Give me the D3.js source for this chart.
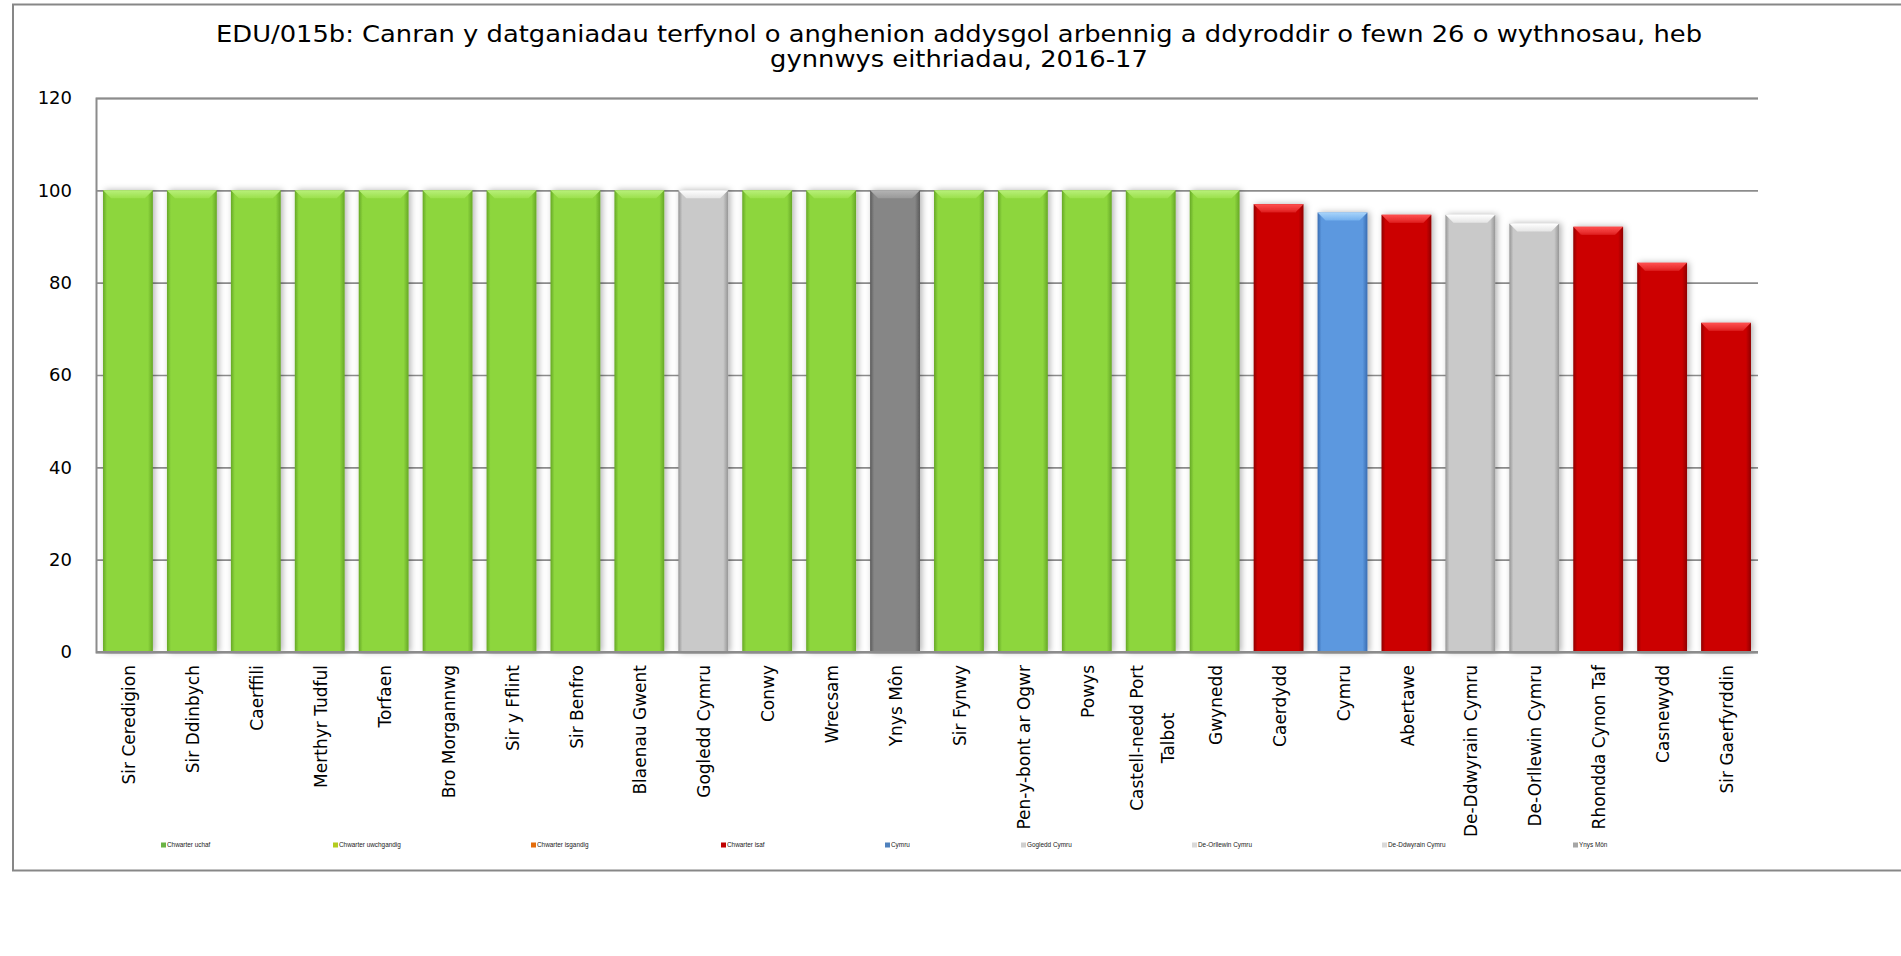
<!DOCTYPE html>
<html><head><meta charset="utf-8">
<script src="https://cdn.jsdelivr.net/npm/d3@7"></script>
<style>body{margin:0;background:#fff;} svg{display:block;}</style>
</head><body>
<svg id="c" width="1901" height="956"></svg>
<script>
const titleLines = ["EDU/015b: Canran y datganiadau terfynol o anghenion addysgol arbennig a ddyroddir o fewn 26 o wythnosau, heb", "gynnwys eithriadau, 2016-17"];
const categories = ["Sir Ceredigion","Sir Ddinbych","Caerffili","Merthyr Tudful","Torfaen","Bro Morgannwg","Sir y Fflint","Sir Benfro","Blaenau Gwent","Gogledd Cymru","Conwy","Wrecsam","Ynys Môn","Sir Fynwy","Pen-y-bont ar Ogwr","Powys","Castell-nedd Port Talbot","Gwynedd","Caerdydd","Cymru","Abertawe","De-Ddwyrain Cymru","De-Orllewin Cymru","Rhondda Cynon Taf","Casnewydd","Sir Gaerfyrddin"];
const values = [100,100,100,100,100,100,100,100,100,100,100,100,100,100,100,100,100,100,97.0,95.2,94.7,94.7,92.8,92.1,84.3,71.3];
const groups = ["uchaf","uchaf","uchaf","uchaf","uchaf","uchaf","uchaf","uchaf","uchaf","region","uchaf","uchaf","ynys","uchaf","uchaf","uchaf","uchaf","uchaf","isaf","cymru","isaf","region","region","isaf","isaf","isaf"];
const yTicks = [0,20,40,60,80,100,120];
const legendLabels = ["Chwarter uchaf","Chwarter uwchgandig","Chwarter isgandig","Chwarter isaf","Cymru","Gogledd Cymru","De-Orllewin Cymru","De-Ddwyrain Cymru","Ynys Môn"];

// styles
const barStyle = {
  uchaf: {base:"#8DD63D", edge:"#66A826", top:"#B8F07A", top2:"#9BE04C"},
  isaf:  {base:"#CC0505", edge:"#900000", top:"#FF5050", top2:"#E02020"},
  cymru: {base:"#5B98DF", edge:"#3A6DB2", top:"#A8D4FA", top2:"#74B0EE"},
  region:{base:"#C9C9C9", edge:"#959595", top:"#FFFFFF", top2:"#E4E4E4"},
  ynys:  {base:"#868686", edge:"#5A5A5A", top:"#B4B4B4", top2:"#999999"}
};
const legendColors = ["#6AB344","#B4CC1E","#E46C0A","#C00000","#4F81BD","#CFCFCF","#D9D9D9","#D9D9D9","#A6A6A6"];
const legendX = [161,333,531,721,885,1021,1192,1382,1573];

const svg = d3.select("#c");
const font = "'DejaVu Sans', Verdana, sans-serif";
const L = 96, R = 1758, T = 98, B = 652;

// frame
svg.append("rect").attr("x",13).attr("y",4.5).attr("width",1950).attr("height",866)
  .attr("fill","#fff").attr("stroke","#878787").attr("stroke-width",2);

const defs = svg.append("defs");
Object.entries(barStyle).forEach(([k,s])=>{
  const g = defs.append("linearGradient").attr("id","g_"+k).attr("x1","0").attr("x2","1").attr("y1","0").attr("y2","0");
  g.append("stop").attr("offset","0").attr("stop-color",s.edge);
  g.append("stop").attr("offset","0.08").attr("stop-color",s.base);
  g.append("stop").attr("offset","0.9").attr("stop-color",s.base);
  g.append("stop").attr("offset","1").attr("stop-color",s.edge);
  const t = defs.append("linearGradient").attr("id","t_"+k).attr("x1","0").attr("x2","0").attr("y1","0").attr("y2","1");
  t.append("stop").attr("offset","0").attr("stop-color",s.top);
  t.append("stop").attr("offset","1").attr("stop-color",s.top2);
});
const f = defs.append("filter").attr("id","sh").attr("x","-30%").attr("y","-10%").attr("width","160%").attr("height","120%");
f.append("feDropShadow").attr("dx",2).attr("dy",0).attr("stdDeviation",3).attr("flood-color","#000").attr("flood-opacity",0.3);

const x = d3.scaleBand().domain(categories).range([L,R]).paddingInner(0.22).paddingOuter(0.11);
const y = d3.scaleLinear().domain([0,120]).range([B,T]);

// title
const titleG = svg.append("g");
const tl = titleG.selectAll("text").data(titleLines).join("text")
  .attr("x",959).attr("y",(d,i)=>42+i*24.5).attr("text-anchor","middle")
  .attr("font-family",font).attr("font-size",22.5).attr("fill","#000").text(d=>d);
const w0 = tl.nodes()[0].getComputedTextLength();
const k = 1486 / w0;
tl.each(function(){ const w=this.getComputedTextLength(); d3.select(this).attr("textLength",w*k).attr("lengthAdjust","spacingAndGlyphs"); });

// grid + y axis
const yAxis = d3.axisLeft(y).tickValues(yTicks).tickSize(-(R-L)).tickPadding(24);
const ga = svg.append("g").attr("transform",`translate(${L},0)`).call(yAxis);
ga.select(".domain").attr("stroke","#8C8C8C").attr("stroke-width",2);
ga.selectAll(".tick line").attr("stroke","#8C8C8C").attr("stroke-width",1.6);
ga.selectAll(".tick text").attr("font-family",font).attr("font-size",18).attr("fill","#000");

// bars
const bars = svg.append("g").selectAll("g").data(categories).join("g").attr("filter","url(#sh)");
bars.append("rect")
  .attr("x",d=>x(d)).attr("width",x.bandwidth())
  .attr("y",(d,i)=>y(values[i])).attr("height",(d,i)=>y(0)-y(values[i]))
  .attr("fill",(d,i)=>`url(#g_${groups[i]})`);
const bev = 8;
bars.append("path")
  .attr("d",(d,i)=>{const x0=x(d), x1=x0+x.bandwidth(), y0=y(values[i]);
    return `M${x0},${y0}L${x1},${y0}L${x1-bev},${y0+bev}L${x0+bev},${y0+bev}Z`;})
  .attr("fill",(d,i)=>`url(#t_${groups[i]})`);

// bottom axis line
svg.append("line").attr("x1",L).attr("x2",R).attr("y1",B).attr("y2",B).attr("stroke","#8C8C8C").attr("stroke-width",2);

// x labels
const labTop = 665;
categories.forEach((c)=>{
  const lines = c.length > 20 ? [c.slice(0,c.lastIndexOf(" ")), c.slice(c.lastIndexOf(" ")+1)] : [c];
  const cx = x(c) + x.bandwidth()/2;
  const g = svg.append("g").attr("transform",`translate(${cx},${labTop}) rotate(-90)`);
  const gap = 31;
  const texts = g.selectAll("text").data(lines).join("text")
    .attr("font-family",font).attr("font-size",17).attr("fill","#000")
    .attr("dy","0.36em")
    .attr("y",(d,i)=> (i-(lines.length-1)/2)*gap + (lines.length>1?2:1))
    .text(d=>d);
  if(lines.length===1){ texts.attr("x",0).attr("text-anchor","end"); }
  else {
    const mx = d3.max(texts.nodes(), n=>n.getComputedTextLength());
    texts.attr("x",-mx/2).attr("text-anchor","middle");
  }
});

// legend
const lg = svg.append("g").selectAll("g").data(legendLabels).join("g")
  .attr("transform",(d,i)=>`translate(${legendX[i]},845)`);
lg.append("rect").attr("x",0).attr("y",-2.5).attr("width",5).attr("height",5).attr("fill",(d,i)=>legendColors[i]);
lg.append("text").attr("x",6).attr("y",2.2).attr("font-family","'Liberation Sans', Arial, sans-serif").attr("font-size",6.4).attr("fill","#222").text(d=>d);
</script>
</body></html>
